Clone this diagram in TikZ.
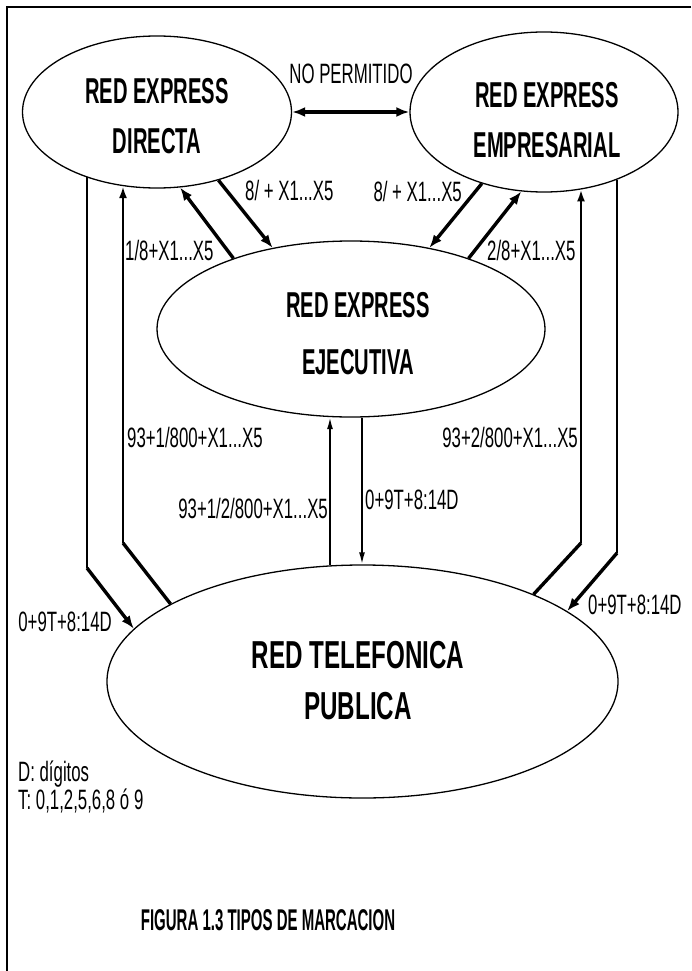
\documentclass[tikz,border=0pt]{standalone}
\usepackage{fontspec}
\setmainfont{Liberation Sans}
\newfontfamily\lblfont[FakeStretch=0.6]{Liberation Sans}
\newfontfamily\boldfont[FakeStretch=0.56]{Liberation Sans}
\newfontfamily\bigboldfont[FakeStretch=0.62]{Liberation Sans}
\newfontfamily\capfont[FakeStretch=0.5]{Liberation Sans}
\usetikzlibrary{shapes.geometric,arrows.meta}
\begin{document}
\begin{tikzpicture}[x=1pt,y=-1pt,
  ellshape/.style={draw,ellipse,line width=1.3pt,inner sep=0pt},
  elltext/.style={align=center,inner sep=0pt,font=\boldfont\bfseries\fontsize{36}{50}\selectfont},
  lbl/.style={inner sep=0pt,font=\lblfont\fontsize{28}{32}\selectfont},
  frameline/.style={line width=1.4pt},
  fatline/.style={line width=3.4pt},
  fatarr/.style={line width=3.4pt,-{Latex[length=13pt,width=10pt]}},
  midline/.style={line width=2.4pt},
  midarr/.style={line width=2.4pt,-{Latex[length=12pt,width=8pt]}},
  thinarr/.style={line width=1.8pt,-{Latex[length=12pt,width=6pt]}},
  dblarr/.style={line width=3.4pt,{Latex[length=13pt,width=10pt]}-{Latex[length=13pt,width=10pt]}}
]
\useasboundingbox (0,0) rectangle (691,971);
\fill[white] (0,0) rectangle (691,971);
\draw[frameline] (691,7) -- (7,7) -- (7,971);

% ellipses
\node[ellshape,minimum width=269pt,minimum height=152pt] (dir) at (157,112) {};
\node[ellshape,minimum width=268pt,minimum height=160pt] (emp) at (544,112) {};
\node[ellshape,minimum width=388pt,minimum height=176pt] (ejec) at (351,329) {};
\node[ellshape,minimum width=511pt,minimum height=233pt] (pub) at (362.5,681.5) {};

% ellipse texts
\node[elltext] (dirT) at (157,116.5) {RED EXPRESS\\DIRECTA};
\node[elltext] (empT) at (547,120) {RED EXPRESS\\EMPRESARIAL};
\node[elltext,font=\boldfont\bfseries\fontsize{36}{57}\selectfont] (ejecT) at (358,334) {RED EXPRESS\\EJECUTIVA};
\node[elltext,font=\bigboldfont\bfseries\fontsize{39}{51}\selectfont] (pubT) at (358,681) {RED TELEFONICA\\PUBLICA};

% NO PERMITIDO
\draw[dblarr] (dir.east) -- (emp.west);
\node[lbl] (np) at (351,74) {NO PERMITIDO};

% diagonals DIRECTA <-> EJECUTIVA
\draw[fatarr] (dir.312) -- (ejec.134);
\draw[fatarr] (ejec.149) -- (dir.287);
% diagonals EMPRESARIAL <-> EJECUTIVA
\draw[fatarr] (emp.229) -- (ejec.46);
\draw[fatarr] (ejec.31) -- (emp.254);

% left outer: DIRECTA -> PUBLICA
\coordinate (lo) at (87,568);
\draw[midline] (lo |- dir.223) -- (lo);
\draw[fatarr] (lo) -- (pub.167);
% left inner: PUBLICA -> DIRECTA
\coordinate (li) at (123,543);
\draw[fatline] (pub.158) -- (li);
\draw[midarr] (li) -- (li |- dir.245);
% right inner: PUBLICA -> EMPRESARIAL
\coordinate (ri) at (581,543);
\draw[fatline] (pub.27) -- (ri);
\draw[midarr] (ri) -- (ri |- emp.296);
% right outer: EMPRESARIAL -> PUBLICA
\coordinate (ro) at (617,553);
\draw[midline] (ro |- emp.317) -- (ro);
\draw[fatarr] (ro) -- (pub.19);

% middle verticals
\coordinate (mu) at (330,490);
\coordinate (md) at (362,490);
\draw[thinarr] (mu |- pub.106) -- (mu |- ejec.257);
\draw[thinarr] (md |- ejec.277) -- (md |- pub.90);

% labels
\node[lbl,anchor=west] (l8a) at (245,190) {8/ + X1...X5};
\node[lbl,anchor=east] (l8b) at (462,191) {8/ + X1...X5};
\node[lbl,anchor=west] (l18) at (125,250) {1/8+X1...X5};
\node[lbl,anchor=west] (l28) at (487,250) {2/8+X1...X5};
\node[lbl,anchor=west] (l931) at (127,437) {93+1/800+X1...X5};
\node[lbl,anchor=east] (l932) at (578,437) {93+2/800+X1...X5};
\node[lbl,anchor=east] (l9312) at (328,508) {93+1/2/800+X1...X5};
\node[lbl,anchor=west] (lm0) at (365,500) {0+9T+8:14D};
\node[lbl,anchor=east] (ll0) at (112,622) {0+9T+8:14D};
\node[lbl,anchor=west] (lr0) at (588,605) {0+9T+8:14D};

% legend and caption
\node[lbl,anchor=base west] (legD) at (18,781) {D: dígitos};
\node[lbl,anchor=base west] (legT) at (18,809) {T: 0,1,2,5,6,8 ó 9};
\node[inner sep=0pt,font=\capfont\bfseries\fontsize{30}{34}\selectfont] (cap) at (268,920) {FIGURA 1.3 TIPOS DE MARCACION};
\end{tikzpicture}
\end{document}
